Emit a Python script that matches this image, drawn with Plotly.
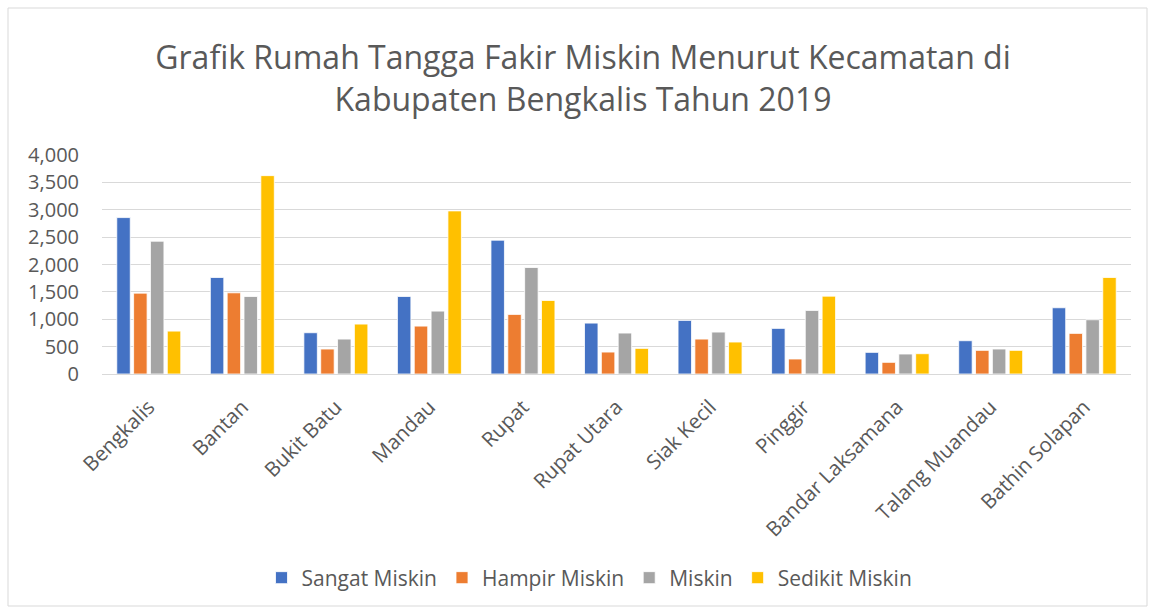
import plotly.graph_objects as go

categories = ["Bengkalis", "Bantan", "Bukit Batu", "Mandau", "Rupat", "Rupat Utara",
              "Siak Kecil", "Pinggir", "Bandar Laksamana", "Talang Muandau", "Bathin Solapan"]
sangat_miskin = [2857, 1763, 754, 1416, 2444, 930, 979, 833, 395, 608, 1210]
hampir_miskin = [1477, 1483, 456, 875, 1088, 401, 638, 274, 213, 432, 742]
miskin = [2425, 1416, 638, 1149, 1945, 748, 766, 1161, 365, 456, 991]
sedikit_miskin = [784, 3623, 912, 2979, 1343, 468, 584, 1422, 371, 432, 1763]
series_names = ["Sangat Miskin", "Hampir Miskin", "Miskin", "Sedikit Miskin"]
colors = ["#4472C4", "#ED7D31", "#A5A5A5", "#FFC000"]
y_ticks = [0, 500, 1000, 1500, 2000, 2500, 3000, 3500, 4000]

FONT = "Open Sans"
fig = go.Figure()
for name, vals, col in zip(series_names, [sangat_miskin, hampir_miskin, miskin, sedikit_miskin], colors):
    fig.add_trace(go.Bar(x=categories, y=vals, name=name,
                         marker=dict(color=col, line=dict(color="white", width=0.8))))

L, R, T, B = 102, 22, 155, 235
W, H = 1153, 609
pw, ph = W - L - R, H - T - B

fig.update_layout(
    width=W, height=H,
    margin=dict(l=L, r=R, t=T, b=B, autoexpand=False),
    paper_bgcolor="white", plot_bgcolor="white",
    barmode="group", bargap=0.28, bargroupgap=0.2,
    font=dict(family=FONT, color="#595959"),
    title=dict(text="Grafik Rumah Tangga Fakir Miskin Menurut Kecamatan di<br>Kabupaten Bengkalis Tahun 2019",
               x=583 / W, xref="container", xanchor="center",
               y=1 - 69 / H, yref="container", yanchor="middle",
               font=dict(family=FONT, size=32, color="#595959")),
    xaxis=dict(tickangle=-45, tickfont=dict(size=20.5, color="#595959"), showgrid=False,
               showline=False, ticks="", ticklabelstandoff=16),
    yaxis=dict(range=[0, 4000], tickvals=y_ticks, tickformat=",d",
               tickfont=dict(size=20, color="#595959"), gridcolor="#D9D9D9", gridwidth=1.3,
               zeroline=True, zerolinecolor="#D9D9D9", zerolinewidth=1.3, showline=False,
               ticks="", ticklabelstandoff=22),
    legend=dict(orientation="h", x=((266 + 913) / 2 - L) / pw, xanchor="center",
                y=(374 - 578) / ph, yanchor="middle",
                font=dict(size=21, color="#595959"), itemwidth=30, traceorder="normal"),
    shapes=[dict(type="rect", xref="paper", yref="paper",
                 x0=(8 - L) / pw, x1=(1147 - L) / pw,
                 y0=(374 - 606) / ph, y1=(374 - 8) / ph,
                 line=dict(color="#D9D9D9", width=1), fillcolor="rgba(0,0,0,0)", layer="below")],
)

fig.write_html("out.html", config={"displayModeBar": False},
               post_script="document.body.style.margin='0';")
